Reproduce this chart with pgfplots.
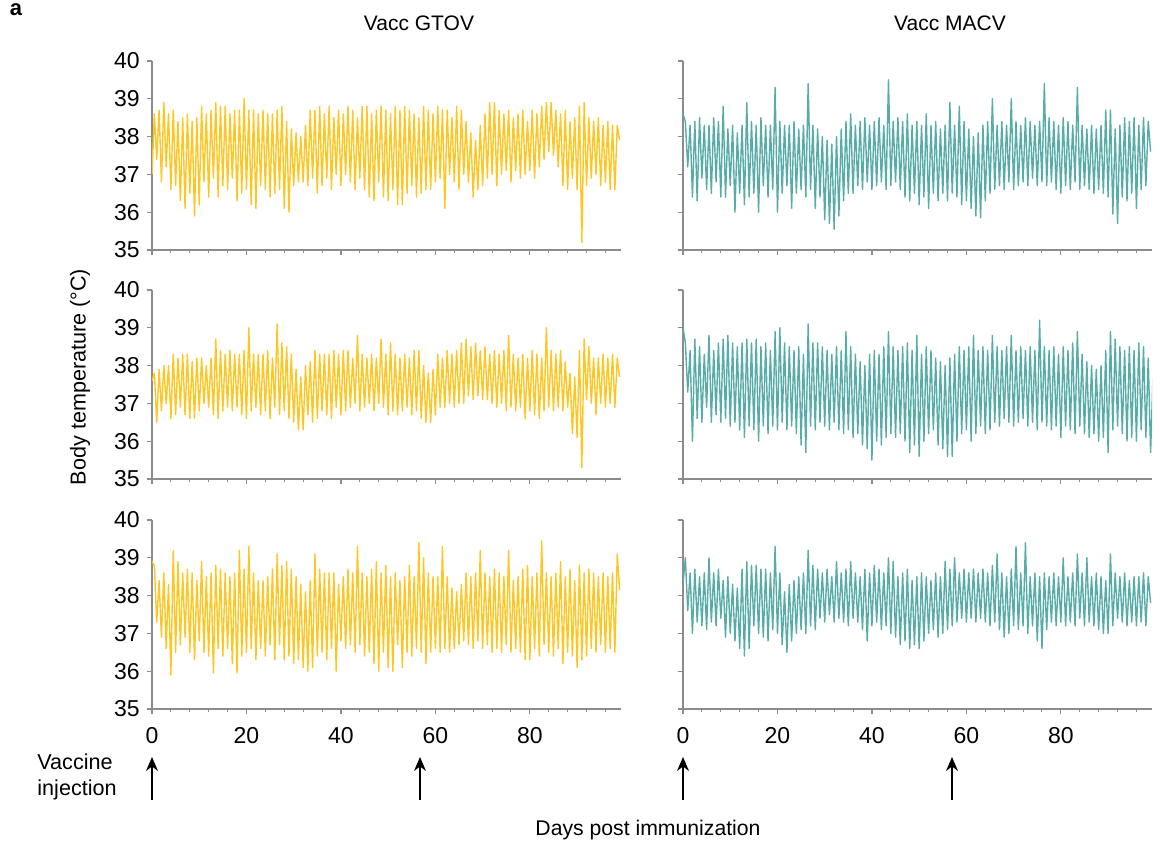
\documentclass[border=0pt]{standalone}
\usepackage{fontspec}
\setmainfont{Liberation Sans}
\usepackage{pgfplots}
\usepackage{pgfplotstable}
\pgfplotsset{compat=1.18}
\usetikzlibrary{arrows.meta}
\definecolor{gold}{RGB}{255,198,35}
\definecolor{tealc}{RGB}{88,172,168}
\definecolor{axgray}{RGB}{140,140,140}

% one value every half day: start value, then for each day a peak and a trough
\pgfplotstableread[row sep=\\]{t\\37.0\\
38.6\\37.4\\ 38.7\\36.8\\ 38.9\\37.2\\ 38.6\\36.6\\ 38.7\\36.7\\
38.4\\36.3\\ 38.5\\36.1\\ 38.6\\36.5\\ 38.4\\35.9\\ 38.5\\36.2\\
38.8\\36.8\\ 38.6\\36.4\\ 38.7\\36.9\\ 38.9\\36.4\\ 38.8\\36.7\\
38.8\\36.6\\ 38.6\\36.9\\ 38.7\\36.3\\ 38.7\\36.5\\ 39.0\\36.6\\
38.7\\36.2\\ 38.7\\36.1\\ 38.6\\36.7\\ 38.7\\36.6\\ 38.6\\36.4\\
38.6\\36.5\\ 38.7\\36.6\\ 38.8\\36.1\\ 38.4\\36.0\\ 38.2\\36.7\\
38.1\\36.8\\ 38.0\\36.8\\ 38.3\\36.7\\ 38.7\\36.9\\ 38.7\\36.5\\
38.8\\36.7\\ 38.6\\36.9\\ 38.8\\36.6\\ 38.5\\37.0\\ 38.7\\36.7\\
38.6\\37.0\\ 38.8\\36.8\\ 38.7\\36.6\\ 38.5\\36.9\\ 38.8\\36.6\\
38.8\\36.4\\ 38.6\\36.3\\ 38.7\\36.8\\ 38.8\\36.4\\ 38.7\\36.3\\
38.6\\36.6\\ 38.8\\36.2\\ 38.7\\36.2\\ 38.8\\36.5\\ 38.7\\36.7\\
38.6\\36.4\\ 38.5\\36.5\\ 38.8\\36.6\\ 38.7\\36.6\\ 38.6\\36.8\\
38.8\\36.9\\ 38.7\\36.1\\ 38.7\\37.0\\ 38.5\\36.8\\ 38.8\\36.6\\
38.7\\37.0\\ 38.4\\36.8\\ 38.1\\36.4\\ 37.9\\36.6\\ 38.3\\36.7\\
38.6\\36.9\\ 38.9\\37.0\\ 38.9\\36.7\\ 38.7\\37.0\\ 38.6\\37.1\\
38.7\\36.8\\ 38.5\\37.1\\ 38.6\\36.9\\ 38.7\\37.0\\ 38.4\\37.1\\
38.7\\36.9\\ 38.6\\37.2\\ 38.8\\37.4\\ 38.9\\37.6\\ 38.9\\37.5\\
38.7\\37.2\\ 38.6\\36.7\\ 38.7\\36.6\\ 38.4\\36.9\\ 38.5\\36.6\\
38.8\\35.2\\ 38.9\\36.7\\ 38.5\\36.9\\ 38.4\\37.0\\ 38.5\\36.7\\
38.3\\36.8\\ 38.4\\36.6\\ 38.3\\36.6\\ 38.3\\37.9\\}\tA

\pgfplotstableread[row sep=\\]{t\\37.6\\
37.8\\36.5\\ 37.9\\36.8\\ 38.0\\37.0\\ 38.0\\36.6\\ 38.3\\36.7\\
38.2\\36.9\\ 38.3\\36.7\\ 38.3\\36.6\\ 38.1\\36.6\\ 38.2\\36.8\\
38.2\\37.0\\ 38.0\\36.9\\ 38.2\\36.7\\ 38.7\\36.6\\ 38.4\\36.8\\
38.3\\36.9\\ 38.4\\36.8\\ 38.3\\36.9\\ 38.3\\36.7\\ 38.4\\36.6\\
39.0\\36.8\\ 38.3\\36.9\\ 38.3\\36.7\\ 38.3\\36.8\\ 38.4\\36.6\\
38.2\\36.9\\ 39.1\\36.7\\ 38.6\\36.8\\ 38.5\\36.6\\ 38.3\\36.5\\
37.9\\36.3\\ 37.7\\36.3\\ 38.0\\36.7\\ 38.1\\36.5\\ 38.4\\36.6\\
38.3\\36.8\\ 38.3\\36.7\\ 38.3\\36.6\\ 38.4\\36.9\\ 38.3\\36.7\\
38.4\\36.8\\ 38.4\\36.9\\ 38.2\\37.0\\ 38.8\\36.8\\ 38.3\\36.9\\
38.2\\37.0\\ 38.3\\36.8\\ 38.2\\37.0\\ 38.7\\36.9\\ 38.3\\36.7\\
38.6\\36.8\\ 38.3\\36.7\\ 38.2\\36.8\\ 38.3\\36.9\\ 38.2\\36.7\\
38.4\\36.8\\ 38.4\\36.6\\ 38.0\\36.5\\ 37.8\\36.5\\ 37.9\\36.7\\
38.3\\36.9\\ 38.2\\36.9\\ 38.4\\37.0\\ 38.3\\36.9\\ 38.4\\37.0\\
38.6\\37.0\\ 38.7\\37.2\\ 38.5\\37.1\\ 38.6\\37.2\\ 38.4\\37.1\\
38.5\\37.1\\ 38.3\\37.0\\ 38.4\\36.9\\ 38.3\\37.0\\ 38.4\\36.8\\
38.8\\36.9\\ 38.3\\36.8\\ 38.2\\36.9\\ 38.3\\36.6\\ 38.2\\36.8\\
38.4\\36.7\\ 38.3\\36.6\\ 38.2\\36.8\\ 39.0\\36.9\\ 38.4\\36.8\\
38.3\\36.9\\ 38.4\\36.8\\ 38.1\\36.9\\ 37.8\\36.2\\ 37.7\\36.1\\
38.4\\35.3\\ 38.7\\37.1\\ 38.5\\37.0\\ 38.2\\36.7\\ 38.2\\37.0\\
38.3\\36.9\\ 38.2\\37.0\\ 38.3\\36.9\\ 38.2\\37.7\\}\tB

\pgfplotstableread[row sep=\\]{t\\38.9\\
38.8\\37.3\\ 38.4\\36.9\\ 38.6\\36.6\\ 38.3\\35.9\\ 39.2\\36.5\\
38.9\\36.7\\ 38.6\\36.9\\ 38.7\\36.5\\ 38.6\\36.3\\ 38.4\\36.8\\
38.9\\36.5\\ 38.5\\36.4\\ 38.6\\35.95\\ 38.8\\36.6\\ 38.7\\36.4\\
38.6\\36.6\\ 38.5\\36.2\\ 38.6\\35.95\\ 39.2\\36.4\\ 38.7\\36.5\\
39.3\\36.6\\ 38.6\\36.3\\ 38.4\\36.6\\ 38.4\\36.4\\ 38.5\\36.7\\
38.7\\36.3\\ 39.1\\36.7\\ 38.8\\36.3\\ 38.9\\36.4\\ 38.7\\36.2\\
38.5\\36.3\\ 38.3\\36.1\\ 38.1\\36.0\\ 38.4\\36.1\\ 39.1\\36.4\\
38.7\\36.5\\ 38.6\\36.3\\ 38.6\\36.6\\ 38.6\\36.0\\ 38.3\\36.8\\
38.5\\36.6\\ 38.7\\36.7\\ 38.6\\36.5\\ 39.3\\36.7\\ 38.6\\36.4\\
38.5\\36.5\\ 38.7\\36.2\\ 38.9\\36.0\\ 38.6\\36.5\\ 38.8\\36.1\\
38.5\\36.0\\ 38.6\\36.7\\ 38.4\\36.1\\ 38.5\\36.5\\ 38.8\\36.4\\
38.5\\36.6\\ 39.4\\36.5\\ 39.0\\36.2\\ 38.6\\36.5\\ 38.5\\36.6\\
38.5\\36.5\\ 39.3\\36.6\\ 38.5\\36.5\\ 38.2\\36.6\\ 38.1\\36.7\\
38.3\\36.8\\ 38.6\\36.7\\ 38.5\\36.6\\ 38.6\\36.8\\ 39.2\\36.6\\
38.6\\36.7\\ 38.5\\36.5\\ 38.7\\36.6\\ 38.6\\36.5\\ 38.5\\36.7\\
39.2\\36.5\\ 38.4\\36.6\\ 38.5\\36.5\\ 38.7\\36.3\\ 38.8\\36.3\\
38.5\\36.6\\ 38.6\\36.4\\ 39.45\\36.7\\ 38.6\\36.5\\ 38.5\\36.4\\
38.6\\36.6\\ 38.9\\36.2\\ 38.5\\36.5\\ 38.7\\36.4\\ 38.4\\36.1\\
38.8\\36.3\\ 38.6\\36.4\\ 38.7\\36.6\\ 38.6\\36.5\\ 38.5\\36.7\\
38.6\\36.5\\ 38.5\\36.6\\ 38.6\\36.5\\ 39.1\\38.15\\}\tC

\pgfplotstableread[row sep=\\]{t\\38.6\\
38.4\\37.2\\ 38.3\\36.4\\ 38.4\\36.3\\ 38.5\\36.9\\ 38.3\\36.6\\
38.3\\36.5\\ 38.5\\36.8\\ 38.4\\36.4\\ 38.8\\36.4\\ 38.2\\36.7\\
38.3\\36.0\\ 38.1\\36.5\\ 38.3\\36.2\\ 38.9\\36.4\\ 38.4\\36.5\\
38.3\\36.0\\ 38.5\\36.7\\ 38.3\\36.4\\ 38.3\\36.6\\ 39.3\\36.0\\
38.4\\36.5\\ 38.3\\36.7\\ 38.3\\36.1\\ 38.4\\36.5\\ 38.2\\36.6\\
38.3\\36.4\\ 39.4\\36.6\\ 38.3\\36.1\\ 38.2\\36.4\\ 38.0\\35.8\\
37.9\\35.7\\ 37.8\\35.55\\ 38.0\\35.9\\ 38.2\\36.3\\ 38.4\\36.5\\
38.6\\36.5\\ 38.3\\36.7\\ 38.4\\36.6\\ 38.5\\36.8\\ 38.3\\36.6\\
38.4\\36.7\\ 38.5\\36.8\\ 38.3\\36.6\\ 39.5\\36.7\\ 38.4\\36.8\\
38.5\\36.6\\ 38.4\\36.4\\ 38.6\\36.3\\ 38.3\\36.5\\ 38.4\\36.2\\
38.3\\36.4\\ 38.6\\36.1\\ 38.3\\36.5\\ 38.4\\36.3\\ 38.2\\36.5\\
38.3\\36.3\\ 38.9\\36.5\\ 38.3\\36.4\\ 38.8\\36.2\\ 38.4\\36.3\\
38.2\\36.1\\ 38.0\\35.9\\ 38.1\\35.85\\ 38.3\\36.3\\ 38.4\\36.5\\
39.0\\36.6\\ 38.3\\36.7\\ 38.4\\36.6\\ 38.3\\36.8\\ 39.0\\36.6\\
38.4\\36.7\\ 38.3\\36.8\\ 38.5\\36.7\\ 38.4\\36.9\\ 38.3\\36.7\\
38.4\\36.8\\ 39.4\\36.7\\ 38.5\\36.8\\ 38.4\\36.6\\ 38.3\\36.5\\
38.5\\36.7\\ 38.4\\36.6\\ 38.3\\36.8\\ 39.3\\36.6\\ 38.3\\36.7\\
38.2\\36.6\\ 38.3\\36.5\\ 38.2\\36.6\\ 38.3\\36.5\\ 38.7\\36.4\\
38.7\\35.95\\ 38.2\\35.7\\ 38.3\\36.4\\ 38.5\\36.3\\ 38.4\\36.5\\
38.5\\36.1\\ 38.3\\36.6\\ 38.5\\36.7\\ 38.4\\37.6\\}\tD

\pgfplotstableread[row sep=\\]{t\\39.0\\
38.6\\37.3\\ 38.4\\36.0\\ 38.7\\36.6\\ 38.5\\36.5\\ 38.3\\36.9\\
38.8\\36.5\\ 38.4\\36.7\\ 38.6\\36.5\\ 38.7\\36.6\\ 38.8\\36.4\\
38.6\\36.5\\ 38.5\\36.3\\ 38.6\\36.1\\ 38.7\\36.4\\ 38.6\\36.3\\
38.7\\36.0\\ 38.5\\36.4\\ 38.6\\36.2\\ 38.4\\36.4\\ 38.9\\36.3\\
39.0\\36.5\\ 38.6\\36.3\\ 38.5\\36.4\\ 38.4\\36.2\\ 38.5\\35.9\\
38.3\\35.7\\ 39.1\\36.4\\ 38.6\\36.3\\ 38.6\\36.5\\ 38.5\\36.4\\
38.4\\36.3\\ 38.3\\36.5\\ 38.5\\36.3\\ 38.4\\36.2\\ 38.9\\36.3\\
38.5\\36.1\\ 38.3\\36.2\\ 38.1\\35.9\\ 38.0\\35.8\\ 38.3\\35.5\\
38.4\\36.0\\ 38.3\\35.9\\ 38.5\\36.1\\ 38.9\\36.2\\ 38.5\\36.1\\
38.4\\36.2\\ 38.5\\36.0\\ 38.6\\35.7\\ 38.4\\35.9\\ 38.8\\35.6\\
38.3\\36.0\\ 38.5\\36.2\\ 38.4\\36.3\\ 38.2\\35.9\\ 38.1\\35.8\\
38.0\\35.6\\ 38.2\\35.6\\ 38.3\\36.0\\ 38.5\\36.2\\ 38.4\\36.3\\
38.5\\36.0\\ 38.8\\36.2\\ 38.4\\36.4\\ 38.5\\36.2\\ 38.4\\36.3\\
38.8\\36.5\\ 38.5\\36.4\\ 38.4\\36.6\\ 38.5\\36.5\\ 38.8\\36.4\\
38.4\\36.5\\ 38.5\\36.6\\ 38.4\\36.4\\ 38.5\\36.5\\ 38.4\\36.3\\
39.2\\36.5\\ 38.5\\36.4\\ 38.4\\36.3\\ 38.5\\36.4\\ 38.3\\36.1\\
38.5\\36.4\\ 38.4\\36.3\\ 38.6\\36.2\\ 38.9\\36.4\\ 38.3\\36.2\\
38.1\\36.1\\ 38.0\\36.2\\ 37.9\\36.0\\ 38.0\\36.1\\ 38.4\\35.7\\
38.9\\36.3\\ 38.7\\36.4\\ 38.5\\36.2\\ 38.4\\36.0\\ 38.5\\36.1\\
38.4\\36.0\\ 38.6\\36.3\\ 38.5\\36.1\\ 38.2\\35.7\\ 37.7\\}\tE

\pgfplotstableread[row sep=\\]{t\\38.3\\
39.0\\37.6\\ 38.6\\37.0\\ 38.7\\37.3\\ 38.5\\37.2\\ 38.6\\37.1\\
39.0\\37.3\\ 38.6\\37.2\\ 38.7\\37.4\\ 38.4\\36.9\\ 38.5\\37.0\\
38.3\\36.8\\ 38.2\\36.6\\ 38.7\\36.4\\ 38.9\\36.6\\ 38.8\\37.2\\
38.8\\37.0\\ 38.7\\36.9\\ 38.7\\36.8\\ 38.6\\37.1\\ 39.3\\37.0\\
38.6\\36.7\\ 38.1\\36.5\\ 38.3\\36.8\\ 38.4\\37.0\\ 38.5\\37.1\\
38.6\\37.0\\ 39.2\\37.2\\ 38.8\\37.1\\ 38.7\\37.4\\ 38.6\\37.3\\
38.7\\37.5\\ 38.5\\37.3\\ 38.9\\37.4\\ 38.6\\37.3\\ 38.7\\37.2\\
38.9\\37.4\\ 38.6\\37.3\\ 38.5\\37.1\\ 38.7\\36.8\\ 38.6\\37.2\\
38.8\\37.3\\ 38.7\\37.1\\ 38.6\\37.2\\ 39.0\\37.0\\ 38.9\\36.9\\
38.5\\36.7\\ 38.6\\36.8\\ 38.7\\36.6\\ 38.4\\36.7\\ 38.5\\36.6\\
38.6\\36.8\\ 38.5\\37.0\\ 38.4\\37.1\\ 38.6\\36.9\\ 38.5\\37.0\\
38.9\\37.1\\ 38.7\\37.2\\ 39.0\\37.3\\ 38.6\\37.4\\ 38.7\\37.3\\
38.6\\37.4\\ 38.7\\37.3\\ 38.6\\37.4\\ 38.7\\37.3\\ 38.6\\37.2\\
38.8\\37.3\\ 39.1\\37.1\\ 38.6\\36.9\\ 38.5\\37.0\\ 38.7\\37.2\\
39.3\\37.1\\ 38.6\\37.2\\ 39.4\\37.0\\ 38.5\\37.2\\ 38.6\\36.8\\
38.5\\36.6\\ 38.6\\37.1\\ 38.5\\37.3\\ 38.6\\37.2\\ 38.5\\37.3\\
39.0\\37.2\\ 38.5\\37.3\\ 38.6\\37.2\\ 39.1\\37.4\\ 38.6\\37.2\\
39.0\\37.3\\ 38.5\\37.2\\ 38.6\\37.1\\ 38.5\\37.0\\ 38.4\\37.0\\
39.1\\37.2\\ 38.6\\37.4\\ 38.5\\37.3\\ 38.6\\37.2\\ 38.4\\37.3\\
38.5\\37.2\\ 38.5\\37.3\\ 38.6\\37.2\\ 38.5\\37.8\\}\tF

\pgfplotsset{panel/.style={
  scale only axis, width=234.5pt, height=94.5pt,
  xmin=0, xmax=99.3, ymin=35, ymax=40,
  axis x line=bottom, axis y line=left,
  axis line style={draw=axgray, -, line width=0.6pt},
  xtick={0,20,40,60,80},
  minor xtick={4,8,12,16,24,28,32,36,44,48,52,56,64,68,72,76,84,88,92,96},
  ytick={35,36,37,38,39,40},
  tick align=outside, major tick length=2.6pt, minor tick length=1.6pt,
  every tick/.style={draw=axgray, line width=0.6pt},
  every minor tick/.style={draw=axgray, line width=0.5pt},
  tick label style={font=\fontsize{11.5}{13}\selectfont},
  /pgf/number format/assume math mode=true,
  xticklabels={},
  every axis plot/.append style={line width=0.7pt, line join=round, no marks},
}}

\begin{document}
\begin{tikzpicture}
\path[use as bounding box] (0,0) rectangle (580pt,423pt);

\begin{axis}[panel, at={(76pt,298pt)}, anchor=south west]
\addplot[gold] table[x expr=\coordindex/2, y=t]{\tA};
\end{axis}
\begin{axis}[panel, at={(76pt,183.5pt)}, anchor=south west]
\addplot[gold] table[x expr=\coordindex/2, y=t]{\tB};
\end{axis}
\begin{axis}[panel, at={(76pt,68.5pt)}, anchor=south west,
  xticklabels={0,20,40,60,80}, xticklabel style={yshift=-3pt}]
\addplot[gold] table[x expr=\coordindex/2, y=t]{\tC};
\end{axis}

\begin{axis}[panel, at={(341.5pt,298pt)}, anchor=south west, yticklabels={}]
\addplot[tealc] table[x expr=\coordindex/2, y=t]{\tD};
\end{axis}
\begin{axis}[panel, at={(341.5pt,183.5pt)}, anchor=south west, yticklabels={}]
\addplot[tealc] table[x expr=\coordindex/2, y=t]{\tE};
\end{axis}
\begin{axis}[panel, at={(341.5pt,68.5pt)}, anchor=south west, yticklabels={},
  xticklabels={0,20,40,60,80}, xticklabel style={yshift=-3pt}]
\addplot[tealc] table[x expr=\coordindex/2, y=t]{\tF};
\end{axis}

\node[font=\bfseries\fontsize{11}{12}\selectfont] at (8pt,418pt) {a};
\node[font=\fontsize{10.5}{12}\selectfont] at (209.5pt,411.5pt) {Vacc GTOV};
\node[font=\fontsize{10.5}{12}\selectfont] at (475pt,411.5pt) {Vacc MACV};
\node[font=\fontsize{10.8}{12}\selectfont, rotate=90] at (40pt,234.5pt) {Body temperature (°C)};
\node[font=\fontsize{10.6}{12}\selectfont] at (324pt,8pt) {Days post immunization};
\node[font=\fontsize{10.8}{12.8}\selectfont, align=left, anchor=west, inner sep=0pt] at (18.5pt,34.5pt) {Vaccine\\injection};

\foreach \xa in {76pt,210pt,341.5pt,476pt}{
  \draw[line width=0.6pt, -{Stealth[length=7pt,width=6pt]}] (\xa,23pt) -- (\xa,44.5pt);
}
\end{tikzpicture}
\end{document}
